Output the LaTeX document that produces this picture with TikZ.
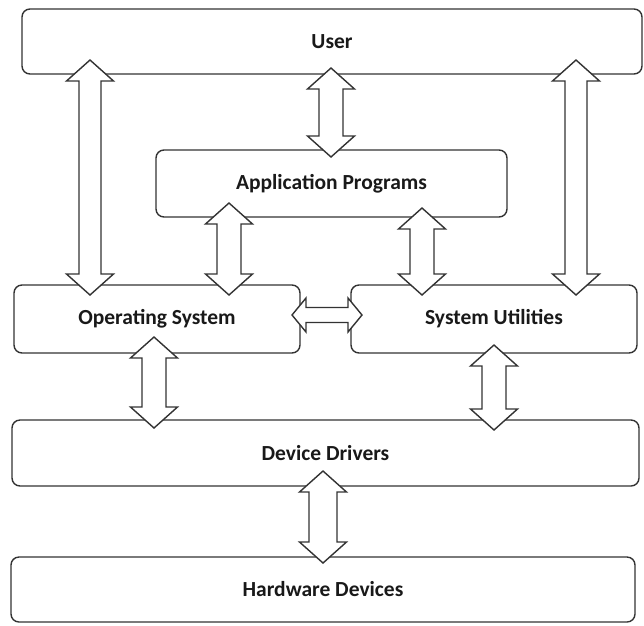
\documentclass[tikz,border=0pt]{standalone}
\usepackage{fontspec}
\setmainfont{Carlito}
\tikzset{
  layer/.style={draw=black!80, line width=1.4pt, rounded corners=8pt, fill=white,
    font=\fontsize{21.5}{25}\selectfont\bfseries, text=black!90, inner sep=0pt},
  blk/.style={draw=black!80, line width=1.4pt, fill=white, line join=miter}
}
% vertical double block arrow: x, top tip y, bottom tip y, shaft half width
\newcommand\vdbl[4]{%
  \draw[blk] (#1,#2) -- ({#1+23.5},{#2+21}) -- ({#1+#4},{#2+21}) -- ({#1+#4},{#3-21})
    -- ({#1+23.5},{#3-21}) -- (#1,#3) -- ({#1-23.5},{#3-21}) -- ({#1-#4},{#3-21})
    -- ({#1-#4},{#2+21}) -- ({#1-23.5},{#2+21}) -- cycle;}
\begin{document}
\begin{tikzpicture}[x=1pt,y=-1pt]
\useasboundingbox (0,0) rectangle (644,625);
\node[layer, minimum width=620pt, minimum height=65pt] (user) at (332,41.5) {User};
\node[layer, minimum width=351pt, minimum height=67pt] (app) at (331.5,183.5) {Application Programs};
\node[layer, minimum width=286pt, minimum height=68pt] (os) at (157,319) {Operating System};
\node[layer, minimum width=286pt, minimum height=68pt] (su) at (494,319) {System Utilities};
\node[layer, minimum width=627pt, minimum height=66pt] (dd) at (325.5,453) {Device Drivers};
\node[layer, minimum width=624pt, minimum height=65pt] (hw) at (323,589.5) {Hardware Devices};
% arrows
\vdbl{90}{60}{295}{11}
\vdbl{331}{68}{157}{12}
\vdbl{576}{60}{295}{11}
\vdbl{229}{203}{295}{12}
\vdbl{422}{208}{295}{12}
\vdbl{154}{337}{428}{12}
\vdbl{494}{345}{430}{12}
\vdbl{323}{471}{563}{14}
\draw[blk] (292,315) -- (306,298) -- (306,307.5) -- (348,307.5) -- (348,298) -- (362,315)
  -- (348,332) -- (348,322.5) -- (306,322.5) -- (306,332) -- cycle;
\end{tikzpicture}
\end{document}
